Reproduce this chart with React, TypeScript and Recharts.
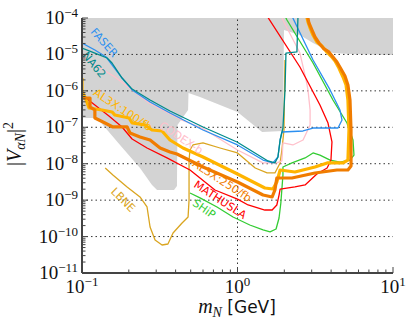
import React from "react";
import {
  Area,
  ComposedChart,
  Line,
  ReferenceDot,
  ReferenceLine,
  XAxis,
  YAxis,
} from "recharts";

const FRAME = "#444444";
const SERIF = "'Liberation Serif', 'DejaVu Serif', serif";
const SANS = "'DejaVu Sans', sans-serif";

// [mass in GeV, |V|^2]
const faser: [number, number][] = [
  [0.1, 2.06e-5], [0.121, 1.32e-5], [0.143, 8.5e-6], [0.156, 5.13e-6], [0.181, 2.25e-6],
  [0.21, 1.06e-6], [0.274, 4.94e-7], [0.368, 2.47e-7], [0.6, 8.43e-8], [1.0, 3.27e-8],
  [1.46, 1.26e-8], [1.69, 1.05e-8], [1.82, 1.53e-8], [1.88, 4.48e-8], [1.93, 7.43e-8],
  [2.64, 7.91e-8], [3.06, 9.55e-8], [4.43, 9.55e-8], [4.7, 1.58e-7], [4.56, 2.98e-7],
  [3.94, 1.06e-6], [3.06, 7.03e-6], [2.27, 1.0e-4], [2.22, 1.21e-4],
];

const na62: [number, number][] = [
  [0.1, 1.5e-5], [0.121, 1.09e-5], [0.145, 7.98e-6], [0.156, 5.82e-6], [0.181, 2.25e-6],
  [0.21, 1.12e-6], [0.274, 5.61e-7], [0.368, 2.8e-7], [0.6, 1.02e-7], [0.993, 3.95e-8],
  [1.57, 1.19e-8], [1.74, 1.05e-8], [1.82, 1.53e-8], [1.88, 4.48e-8], [1.96, 9.55e-8],
  [2.02, 1.06e-6], [2.05, 1.09e-5], [2.41, 1.17e-5], [2.45, 1.2e-4],
];

const codexb: [number, number][] = [
  [0.1, 8.5e-6], [0.131, 4.24e-6], [0.163, 2.4e-6], [0.27, 4.65e-7], [0.44, 1.58e-7],
  [0.591, 9.55e-8], [1.0, 2.38e-8], [1.46, 1.05e-8], [1.79, 1.05e-8], [1.93, 1.19e-8],
  [1.96, 3.71e-8], [2.27, 3.27e-8], [2.64, 4.48e-8], [2.93, 1.16e-7], [2.93, 2.98e-7],
  [2.84, 1.06e-6], [2.76, 1.99e-6], [2.52, 1.09e-5], [1.96, 8.81e-5], [1.9, 1.3e-4],
];

const mathusla: [number, number][] = [
  [0.1, 7.69e-7], [0.121, 4.09e-7], [0.149, 2.04e-7], [0.181, 1.02e-7], [0.21, 4.77e-8],
  [0.262, 2.7e-8], [0.352, 1.44e-8], [0.495, 6.72e-9], [0.716, 1.9e-9], [1.0, 1.07e-9],
  [1.17, 7.36e-10], [1.5, 5.36e-10], [1.67, 5.36e-10], [1.79, 7.36e-10], [1.85, 1.38e-9],
  [1.88, 2.02e-9], [2.34, 2.3e-9], [2.72, 2.61e-9], [3.24, 5.22e-9], [3.77, 7.62e-9],
  [3.99, 1.26e-8], [4.05, 3.95e-8], [3.82, 1.31e-7], [3.39, 4.09e-7], [2.52, 4.52e-6],
  [1.55, 1.13e-4],
];

const ship: [number, number][] = [
  [0.495, 1.57e-9], [0.574, 1.15e-9], [0.738, 6.49e-10], [0.936, 3.45e-10], [1.2, 2.08e-10],
  [1.46, 1.52e-10], [1.62, 1.34e-10], [1.77, 1.61e-10], [1.85, 3.24e-10], [1.9, 8.35e-10],
  [1.96, 4.9e-9], [1.96, 8.13e-9], [2.24, 1.05e-8], [2.72, 1.44e-8], [3.06, 1.97e-8],
  [3.39, 1.73e-8], [3.94, 1.26e-8], [4.56, 1.11e-8], [5.29, 1.26e-8], [5.61, 1.73e-8],
  [5.53, 4.48e-8], [5.06, 1.31e-7], [4.11, 5.61e-7], [3.06, 5.82e-6], [2.08, 8.81e-5],
  [2.02, 1.13e-4],
];

const lbne: [number, number][] = [
  [0.141, 7.62e-9], [0.158, 4.9e-9], [0.195, 2.3e-9], [0.236, 1.22e-9], [0.262, 6.49e-10],
  [0.274, 1.83e-10], [0.295, 8.05e-11], [0.327, 5.87e-11], [0.357, 6.25e-11], [0.385, 1.25e-10],
  [0.44, 2.36e-10], [0.481, 3.45e-10], [0.488, 1.01e-9], [0.488, 1.26e-8], [0.495, 2.38e-8],
  [0.517, 3.27e-8], [0.6, 3.71e-8], [0.772, 2.7e-8], [1.0, 1.97e-8], [1.3, 7.62e-9],
  [1.55, 5.57e-9], [1.74, 5.57e-9], [1.88, 1.05e-8], [1.93, 2.38e-8], [1.99, 8.43e-8],
  [2.02, 7.03e-6],
];

const al3x100: [number, number][] = [
  [0.1, 2.25e-6], [0.1, 9.31e-7], [0.1045, 6.78e-7], [0.111, 3.38e-7], [0.1345, 2.98e-7],
  [0.156, 2.63e-7], [0.163, 2.17e-7], [0.2006, 1.8e-7], [0.21, 1.31e-7], [0.254, 1.16e-7],
  [0.282, 8.43e-8], [0.327, 7.91e-8], [0.368, 4.48e-8], [0.446, 2.7e-8], [0.6, 1.53e-8],
  [1.0, 5.22e-9], [1.5, 2.15e-9], [1.69, 2.02e-9], [1.79, 3.15e-9], [1.88, 6.72e-9],
  [2.34, 5.93e-9], [3.15, 8.13e-9], [3.77, 1.05e-8], [4.77, 1.05e-8], [5.13, 1.26e-8],
  [5.21, 8.43e-8], [5.13, 5.61e-7], [4.99, 1.45e-6], [4.77, 2.4e-6], [4.49, 4.24e-6],
  [4.24, 6.61e-6], [3.99, 9.05e-6], [3.71, 1.24e-5], [3.49, 1.7e-5], [3.24, 2.19e-5],
  [3.06, 3.41e-5], [2.93, 5.31e-5], [2.84, 7.76e-5], [2.76, 1.3e-4],
];

const al3x250: [number, number][] = [
  [0.1, 6.37e-7], [0.1126, 6.37e-7], [0.1126, 3.61e-7], [0.121, 2.98e-7], [0.121, 1.8e-7],
  [0.1365, 1.4e-7], [0.158, 1.02e-7], [0.195, 1.02e-7], [0.2036, 6.97e-8], [0.236, 5.41e-8],
  [0.274, 4.48e-8], [0.318, 2.7e-8], [0.368, 2.1e-8], [0.408, 1.85e-8], [0.6, 8.13e-9],
  [1.0, 3.15e-9], [1.46, 1.38e-9], [1.67, 1.22e-9], [1.74, 1.9e-9], [1.79, 4.06e-9],
  [2.24, 4.06e-9], [3.15, 5.57e-9], [4.36, 6.72e-9], [5.13, 6.72e-9], [5.37, 8.65e-9],
  [5.37, 8.43e-8], [5.29, 5.61e-7], [5.13, 1.45e-6], [4.91, 2.56e-6], [4.63, 3.98e-6],
  [4.36, 6.19e-6], [4.11, 8.5e-6], [3.87, 1.17e-5], [3.6, 1.41e-5], [3.34, 2.06e-5],
  [3.15, 3.01e-5], [3.01, 4.69e-5], [2.88, 7.29e-5], [2.8, 1.3e-4],
];

// lower edge of the excluded (grey) region; it is filled up to the top of the plot
const excluded: [number, number][] = [
  [0.1, 1.8e-7], [0.1249, 1.8e-7], [0.1756, 3.27e-8], [0.236, 7.62e-9], [0.282, 2.61e-9],
  [0.304, 1.9e-9], [0.3906, 1.9e-9], [0.408, 2.44e-9], [0.411, 1.16e-7], [0.481, 2.98e-7],
  [0.484, 8.73e-7], [0.574, 6.78e-7], [1.0, 2.63e-7], [1.44, 7.43e-8], [1.96, 7.91e-8],
  [1.99, 4.69e-5], [2.52, 3.41e-5], [3.06, 2.06e-5], [3.65, 1.41e-5], [4.11, 1.09e-5],
  [5.29, 1.03e-5], [10, 9.64e-6],
];

const xMajor = [0.1, 1, 10];
const xMinor = [0.2, 0.3, 0.4, 0.5, 0.6, 0.7, 0.8, 0.9, 2, 3, 4, 5, 6, 7, 8, 9];
const yMajor = [1e-11, 1e-10, 1e-9, 1e-8, 1e-7, 1e-6, 1e-5, 1e-4];
const mantissas = [2, 3, 4, 5, 6, 7, 8, 9];
const yMinor = yMajor.slice(0, -1).flatMap((d) => mantissas.map((k) => k * d));
const xGrid = [1];
const yGrid = [1e-10, 1e-9, 1e-8, 1e-7, 1e-6, 1e-5];

const curves = [
  { key: "lbne", data: lbne, color: "#daa520", width: 1.3 },
  { key: "codexb", data: codexb, color: "#ffc0cb", width: 1.3 },
  { key: "ship", data: ship, color: "#33cc33", width: 1.3 },
  { key: "mathusla", data: mathusla, color: "#ff0000", width: 1.3 },
  { key: "faser", data: faser, color: "#2b8ff0", width: 1.3 },
  { key: "na62", data: na62, color: "#008b8b", width: 1.3 },
  { key: "al3x100", data: al3x100, color: "#ffb400", width: 3.2 },
  { key: "al3x250", data: al3x250, color: "#f07c00", width: 3.2 },
];

const labels = [
  { text: "FASER", m: 0.1385, v: 2.1e-5, angle: 48, color: "#2b8ff0" },
  { text: "NA62", m: 0.1194, v: 5.13e-6, angle: 50, color: "#008b8b" },
  { text: "AL3X:100/fb", m: 0.183, v: 2.98e-7, angle: 33, color: "#ffb400" },
  { text: "CODEX-b", m: 0.433, v: 5.08e-8, angle: 33, color: "#ffc0cb" },
  { text: "AL3X:250/fb", m: 0.795, v: 3.36e-9, angle: 33, color: "#f07c00" },
  { text: "MATHUSLA", m: 0.772, v: 1.01e-9, angle: 33, color: "#ff0000" },
  { text: "SHiP", m: 0.609, v: 5.71e-10, angle: 35, color: "#33cc33" },
  { text: "LBNE", m: 0.1835, v: 1.01e-9, angle: 45, color: "#daa520" },
];

const toRows = (pts: [number, number][]) => pts.map(([m, v]) => ({ m, v }));
const greyRows = excluded.map(([m, lo]) => ({ m, band: [lo, 1e-4] }));

function expText(v: number) {
  const e = Math.round(Math.log10(v));
  return e < 0 ? `\u2212${-e}` : `${e}`;
}

const BottomTick = ({ x, y, payload }: any) => {
  const major = xMajor.includes(payload.value);
  return (
    <g>
      <line x1={x} x2={x} y1={y} y2={y - (major ? 6 : 3.5)} stroke={FRAME} />
      {major && (
        <text x={x} y={y + 19.5} textAnchor="middle" fontFamily={SERIF} fontSize={19} fill="#111">
          10<tspan dy={-7} fontSize={13}>{expText(payload.value)}</tspan>
        </text>
      )}
    </g>
  );
};

const TopTick = ({ x, y, payload }: any) => {
  const major = xMajor.includes(payload.value);
  return <line x1={x} x2={x} y1={y} y2={y + (major ? 6 : 3.5)} stroke={FRAME} />;
};

const LeftTick = ({ x, y, payload }: any) => {
  const major = yMajor.includes(payload.value);
  return (
    <g>
      <line x1={x} x2={x + (major ? 6 : 3.5)} y1={y} y2={y} stroke={FRAME} />
      {major && (
        <text x={x - 4} y={y + 6} textAnchor="end" fontFamily={SERIF} fontSize={19} fill="#111">
          10<tspan dy={-7} fontSize={13}>{expText(payload.value)}</tspan>
        </text>
      )}
    </g>
  );
};

const RightTick = ({ x, y, payload }: any) => {
  const major = yMajor.includes(payload.value);
  return <line x1={x} x2={x - (major ? 6 : 3.5)} y1={y} y2={y} stroke={FRAME} />;
};

const axisLine = { stroke: FRAME, strokeWidth: 2 };

function AxisTitles() {
  return (
    <svg
      width={414}
      height={329}
      style={{ position: "absolute", left: 0, top: 0, pointerEvents: "none" }}
    >
      <text x={237} y={313} textAnchor="middle" fill="#111">
        <tspan fontFamily={SERIF} fontStyle="italic" fontSize={20}>m</tspan>
        <tspan fontFamily={SERIF} fontStyle="italic" fontSize={14} dy={4}>N</tspan>
        <tspan fontFamily={SANS} fontSize={17} dy={-4}>{"\u00a0[GeV]"}</tspan>
      </text>
      <text
        x={21}
        y={144}
        transform="rotate(-90 21 144)"
        textAnchor="middle"
        fontFamily={SERIF}
        fontSize={20}
        fill="#111"
      >
        |<tspan fontStyle="italic">V</tspan>
        <tspan fontStyle="italic" fontSize={14} dy={4}>αN</tspan>
        <tspan dy={-4}>|</tspan>
        <tspan fontSize={14} dy={-8}>2</tspan>
      </text>
    </svg>
  );
}

export default function App() {
  return (
    <div style={{ position: "absolute", left: 0, top: 0, width: 414, height: 329, background: "#fff" }}>
      <ComposedChart width={414} height={329} margin={{ top: 18, right: 21, bottom: 0, left: 0 }}>
        <XAxis
          dataKey="m"
          type="number"
          scale="log"
          domain={[0.1, 10]}
          allowDataOverflow
          ticks={[...xMajor, ...xMinor]}
          interval={0}
          tick={<BottomTick />}
          tickLine={false}
          tickSize={0}
          tickMargin={0}
          axisLine={axisLine}
          height={56}
        />
        <XAxis
          xAxisId="top"
          orientation="top"
          type="number"
          scale="log"
          domain={[0.1, 10]}
          allowDataOverflow
          ticks={[...xMajor, ...xMinor]}
          interval={0}
          tick={<TopTick />}
          tickLine={false}
          tickSize={0}
          tickMargin={0}
          axisLine={axisLine}
          height={0}
        />
        <YAxis
          type="number"
          scale="log"
          domain={[1e-11, 1e-4]}
          allowDataOverflow
          ticks={[...yMajor, ...yMinor]}
          interval={0}
          tick={<LeftTick />}
          tickLine={false}
          tickSize={0}
          tickMargin={0}
          axisLine={axisLine}
          width={82}
        />
        <YAxis
          yAxisId="right"
          orientation="right"
          type="number"
          scale="log"
          domain={[1e-11, 1e-4]}
          allowDataOverflow
          ticks={[...yMajor, ...yMinor]}
          interval={0}
          tick={<RightTick />}
          tickLine={false}
          tickSize={0}
          tickMargin={0}
          axisLine={axisLine}
          width={0}
        />
        <Area
          data={greyRows}
          dataKey="band"
          type="linear"
          fill="#d3d3d3"
          fillOpacity={1}
          stroke="none"
          isAnimationActive={false}
        />
        {yGrid.map((v) => (
          <ReferenceLine key={`y${v}`} y={v} stroke="#333" strokeDasharray="1.5 3" strokeWidth={1} />
        ))}
        {xGrid.map((m) => (
          <ReferenceLine key={`x${m}`} x={m} stroke="#333" strokeDasharray="1.5 3" strokeWidth={1} />
        ))}
        {curves.map((c) => (
          <Line
            key={c.key}
            data={toRows(c.data)}
            dataKey="v"
            type="linear"
            stroke={c.color}
            strokeWidth={c.width}
            strokeLinejoin="round"
            dot={false}
            activeDot={false}
            isAnimationActive={false}
          />
        ))}
        {labels.map((l) => (
          <ReferenceDot
            key={l.text}
            x={l.m}
            y={l.v}
            r={1}
            shape={(p: any) => (
              <text
                x={p.cx}
                y={p.cy}
                transform={`rotate(${l.angle} ${p.cx} ${p.cy})`}
                textAnchor="middle"
                dominantBaseline="central"
                fontFamily={SANS}
                fontSize={11}
                fill={l.color}
              >
                {l.text}
              </text>
            )}
          />
        ))}
      </ComposedChart>
      <AxisTitles />
    </div>
  );
}
